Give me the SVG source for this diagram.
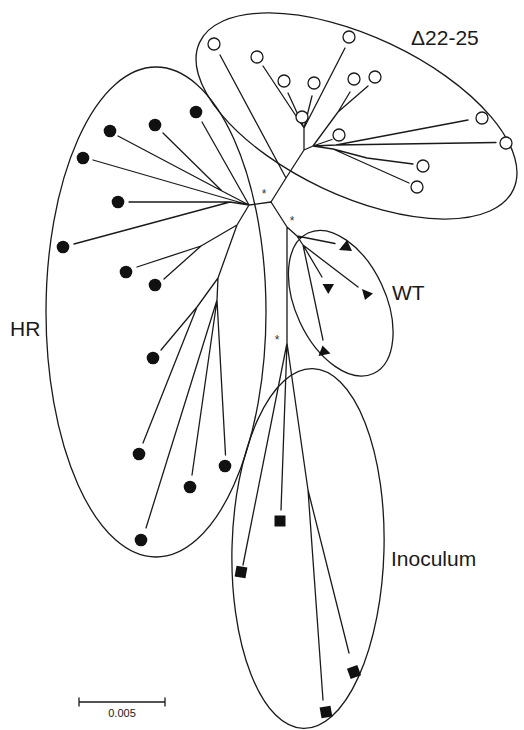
<svg xmlns="http://www.w3.org/2000/svg" width="524" height="730" viewBox="0 0 524 730">
<style>
.e{fill:none;stroke:#1a1a1a;stroke-width:1.3}
.b{fill:none;stroke:#1a1a1a;stroke-width:1.3;stroke-linecap:round;stroke-linejoin:round}
.oc{fill:#fff;stroke:#1a1a1a;stroke-width:1.3}
.fc{fill:#111}
.lbl{font-family:"Liberation Sans",Arial,sans-serif;font-size:21px;fill:#1a1a1a}
.ast{font-family:"Liberation Sans",Arial,sans-serif;font-size:12px;fill:#333333;text-anchor:middle}
.sc{font-family:"Liberation Sans",Arial,sans-serif;font-size:11px;fill:#1a1a1a;text-anchor:middle}
</style>
<rect width="524" height="730" fill="#fff"/>
<g id="connectors">
<path class="b" d="M271,202 L286,178 L304,150 L304,128 M286,178 L220,55 M304,128 L302,123 M304,128 L263,66 M304,128 L288,93 M304,128 L312,96 M304,128 L345,48 M304,150 L313,146 M313,146 L332,139.5 M313,146 L336,145 L468,120 M336,145 L496,142.5 M313,146 L338,112 L350,92 M338,112 L368,86 M313,146 L333,149 L367,158 L413,164 M333,149 L409,183"/>
<path class="b" d="M271,202 L249,205 M249,205 L202,122 M249,205 L222,191 L163,133 M222,191 L118,136 M249,205 L93,160 M249,205 L230,202 L129,202 M230,202 L74,244 M249,205 L237,225 L201,246 L137,267 M201,246 L164,279 M237,225 L218,278 L197,307 L161,350 M197,307 L143,443 M218,278 L217,300 L146,528 M217,300 L192,475 M217,300 L225.5,455"/>
<path class="b" d="M271,202 L287,227 L287,343 M287,227 L297,236 L303,245 M297,236 L335,243.5 M303,245 L322,277 M303,245 L358,287 M303,245 L323,340 M287,343 L281,510 M287,343 L243,565 M287,343 L308,490 L349,653 M308,490 L323,700"/>
<text class="ast" x="264" y="198">*</text>
<text class="ast" x="292" y="225">*</text>
<text class="ast" x="277" y="344">*</text>
</g>
<g id="cluster-d2225">
<ellipse class="e" cx="356.5" cy="116" rx="173.3" ry="79.6" transform="rotate(25.15 356.5 116)"/>
<text class="lbl" x="411" y="45">Δ22-25</text>
<circle class="oc" cx="214" cy="44" r="6"/>
<circle class="oc" cx="349" cy="37" r="6"/>
<circle class="oc" cx="257" cy="57" r="6"/>
<circle class="oc" cx="284" cy="81" r="6"/>
<circle class="oc" cx="314" cy="83" r="6"/>
<circle class="oc" cx="354" cy="79" r="6"/>
<circle class="oc" cx="375" cy="77" r="6"/>
<circle class="oc" cx="302" cy="117" r="6"/>
<circle class="oc" cx="482" cy="118" r="6"/>
<circle class="oc" cx="339" cy="135" r="6"/>
<circle class="oc" cx="506" cy="143" r="6"/>
<circle class="oc" cx="423" cy="166" r="6"/>
<circle class="oc" cx="417" cy="187" r="6"/>
</g>
<g id="cluster-hr">
<ellipse class="e" cx="156" cy="312" rx="110" ry="245"/>
<text class="lbl" x="10" y="336">HR</text>
<circle class="fc" cx="196" cy="112" r="6.3"/>
<circle class="fc" cx="155" cy="125" r="6.3"/>
<circle class="fc" cx="110" cy="131" r="6.3"/>
<circle class="fc" cx="83" cy="158" r="6.3"/>
<circle class="fc" cx="118" cy="202" r="6.3"/>
<circle class="fc" cx="63" cy="247" r="6.3"/>
<circle class="fc" cx="126" cy="272" r="6.3"/>
<circle class="fc" cx="155" cy="285" r="6.3"/>
<circle class="fc" cx="153" cy="358" r="6.3"/>
<circle class="fc" cx="139" cy="454" r="6.3"/>
<circle class="fc" cx="225" cy="466" r="6.3"/>
<circle class="fc" cx="190" cy="487" r="6.3"/>
<circle class="fc" cx="141" cy="540" r="6.3"/>
</g>
<g id="cluster-wt">
<ellipse class="e" cx="340.75" cy="303.25" rx="45" ry="77.5" transform="rotate(-25 340.75 303.25)"/>
<text class="lbl" x="392" y="300">WT</text>
<polygon class="fc" points="339,250 347,240 352,251"/>
<polygon class="fc" points="322.5,284 334,284 328.3,294"/>
<polygon class="fc" points="362,289 373,293.5 365,300"/>
<polygon class="fc" points="318.5,356 322.5,345.5 330.5,353.5"/>
</g>
<g id="cluster-inoculum">
<ellipse class="e" cx="308" cy="548.5" rx="76" ry="180" transform="rotate(1.5 308 548.5)"/>
<text class="lbl" x="391" y="566">Inoculum</text>
<rect class="fc" x="274.5" y="515.5" width="11" height="11"/>
<rect class="fc" x="235.5" y="566.5" width="11" height="11" transform="rotate(10 241 572)"/>
<rect class="fc" x="348.5" y="666.5" width="11" height="11" transform="rotate(-20 354 672)"/>
<rect class="fc" x="320.5" y="706.5" width="11" height="11" transform="rotate(-10 326 712)"/>
</g>
<g id="scale-bar">
<path class="b" d="M79,702 H165 M79,698 V706 M165,698 V706"/>
<text class="sc" x="122" y="717">0.005</text>
</g>
</svg>
